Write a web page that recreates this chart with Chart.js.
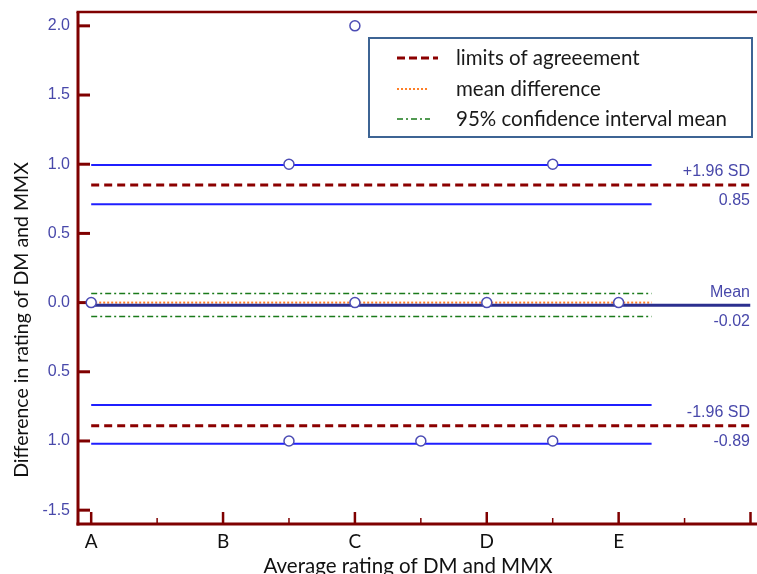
<!DOCTYPE html>
<html><head><meta charset="utf-8">
<style>html,body{margin:0;padding:0;background:#fff}#wrap{width:757px;height:574px}</style>
<script src="https://cdn.jsdelivr.net/npm/chart.js@4.4.0/dist/chart.umd.min.js"></script>
</head><body><div id="wrap"><canvas id="c" width="757" height="574"></canvas></div>
<script>
const categories = ['A', 'B', 'C', 'D', 'E'];
const xTickValues = [0, 1, 2, 3, 4];
const yTickValues = [-1.5, -1, -0.5, 0, 0.5, 1, 1.5, 2];
const yTickLabels = ['-1.5', '1.0', '0.5', '0.0', '0.5', '1.0', '1.5', '2.0'];
const pointX = [0, 2, 1.5, 3.5, 2, 3, 4, 1.5, 2.5, 3.5];
const pointY = [0, 2, 1, 1, 0, 0, 0, -1, -1, -1];
const limitValues = [0.85, -0.89];
const limitCIValues = [0.995, 0.71, -0.74, -1.02];
const meanValue = -0.02;
const meanDottedValue = 0.0;
const meanCIValues = [0.065, -0.10];
const rightLabels = [['+1.96 SD', '0.85', 0.85], ['Mean', '-0.02', -0.02], ['-1.96 SD', '-0.89', -0.89]];
const legendLabels = ['limits of agreeement', 'mean difference', '95% confidence interval mean'];
const xTitle = 'Average rating of DM and MMX';
const yTitle = 'Difference in rating of DM and MMX';
const lineStart = 0, shortEnd = 4.25, longEnd = 5;

const AXIS = '#7f0000';
const TEXT_BLUE = '#4848aa';
const SANS = '"Liberation Sans", Arial, sans-serif';
const CAL = 'Lato, "Open Sans", sans-serif';

function hline(v, end, color, width, dash) {
  return { type: 'line', showLine: true, data: [{x: lineStart, y: v}, {x: end, y: v}],
    borderColor: color, borderWidth: width, borderDash: dash || [], pointRadius: 0, fill: false, order: 1 };
}
const datasets = [{
  data: pointX.map((x, i) => ({x, y: pointY[i]})),
  pointStyle: 'circle', pointRadius: 5, borderColor: '#4c4cb4', borderWidth: 1.5,
  backgroundColor: '#ffffff', showLine: false, order: 0
}];
limitCIValues.forEach(v => datasets.push(hline(v, shortEnd, '#1f1fff', 2)));
limitValues.forEach(v => datasets.push(hline(v, longEnd, '#8b0000', 3, [8, 5])));
meanCIValues.forEach(v => datasets.push(hline(v, shortEnd, '#1a7a1a', 1.5, [6, 3, 2, 3])));
datasets.push(hline(meanValue, longEnd, '#2b2f8f', 3));
datasets.push(hline(meanDottedValue, shortEnd, '#ff7f27', 2, [2, 2]));

function seg(ctx, x1, y1, x2, y2) { ctx.beginPath(); ctx.moveTo(x1, y1); ctx.lineTo(x2, y2); ctx.stroke(); }

const deco = {
  id: 'deco',
  beforeDatasetsDraw(chart) {
    const {ctx, chartArea: ca, scales: {x, y}} = chart;
    ctx.save();
    ctx.strokeStyle = AXIS;
    ctx.lineWidth = 2.5; seg(ctx, ca.left - 1.5, ca.top, 757, ca.top);
    ctx.lineWidth = 3;
    seg(ctx, ca.left, ca.top, ca.left, ca.bottom + 1.5);
    seg(ctx, ca.left - 1.5, ca.bottom, 757, ca.bottom);
    yTickValues.forEach(v => { const py = y.getPixelForValue(v); seg(ctx, ca.left, py, ca.left + 12, py); });
    for (let v = 0; v <= longEnd; v += 0.5) {
      const px = x.getPixelForValue(v);
      const major = Number.isInteger(v);
      ctx.lineWidth = major ? 2.5 : 1.5;
      seg(ctx, px, ca.bottom, px, ca.bottom - (major ? 12 : 6));
    }
    ctx.restore();
  },
  afterDraw(chart) {
    const {ctx, scales: {y}} = chart;
    ctx.save();
    ctx.font = '16px ' + SANS; ctx.fillStyle = TEXT_BLUE; ctx.textAlign = 'right'; ctx.textBaseline = 'middle';
    rightLabels.forEach(([a, b, v]) => {
      const py = y.getPixelForValue(v);
      ctx.fillText(a, 750, py - 13);
      ctx.fillText(b, 750, py + 16);
    });
    ctx.strokeStyle = '#3d6494'; ctx.lineWidth = 2;
    ctx.strokeRect(369, 38, 383, 99);
    const rows = [58, 89, 119];
    ctx.strokeStyle = '#8b0000'; ctx.lineWidth = 3; ctx.setLineDash([8, 4]);
    seg(ctx, 397, rows[0], 438, rows[0]);
    ctx.strokeStyle = '#ff7f27'; ctx.lineWidth = 2; ctx.setLineDash([2, 2]);
    seg(ctx, 397, rows[1], 427, rows[1]);
    ctx.strokeStyle = '#1a7a1a'; ctx.lineWidth = 1.5; ctx.setLineDash([6, 3, 2, 3]);
    seg(ctx, 397, rows[2], 430, rows[2]);
    ctx.setLineDash([]);
    ctx.font = '20.5px ' + CAL; ctx.fillStyle = '#1a1a1a'; ctx.textAlign = 'left';
    legendLabels.forEach((t, i) => ctx.fillText(t, 456, rows[i]));
    ctx.font = '20.5px ' + CAL; ctx.fillStyle = '#111'; ctx.textAlign = 'center';
    ctx.fillText(xTitle, 408, 566);
    ctx.font = '19.5px ' + CAL;
    ctx.translate(22, 320); ctx.rotate(-Math.PI / 2);
    ctx.fillText(yTitle, 0, 0);
    ctx.restore();
  }
};

new Chart(document.getElementById('c'), {
  type: 'scatter',
  data: { datasets },
  options: {
    responsive: false, animation: false, devicePixelRatio: 1,
    layout: { padding: { top: 12, right: 3, left: 0, bottom: 0 } },
    plugins: { legend: { display: false }, tooltip: { enabled: false } },
    scales: {
      x: {
        type: 'linear', min: -0.1, max: 5,
        afterBuildTicks: s => { s.ticks = xTickValues.map(v => ({value: v})); },
        afterFit: s => { s.height = 50; s.paddingLeft = 0; s.paddingRight = 0; },
        grid: { display: false, drawTicks: false }, border: { display: false },
        ticks: { callback: (v, i) => categories[i], autoSkip: false, maxRotation: 0,
          font: { family: CAL, size: 19 }, color: '#111', padding: 6 }
      },
      y: {
        type: 'linear', min: -1.6, max: 2.1,
        afterBuildTicks: s => { s.ticks = yTickValues.map(v => ({value: v})); },
        afterFit: s => { s.width = 78; s.paddingTop = 0; s.paddingBottom = 0; },
        grid: { display: false, drawTicks: false }, border: { display: false },
        ticks: { callback: (v, i) => yTickLabels[i], autoSkip: false,
          font: { family: SANS, size: 16 }, color: TEXT_BLUE, padding: 8 }
      }
    }
  },
  plugins: [deco]
});
</script></body></html>
